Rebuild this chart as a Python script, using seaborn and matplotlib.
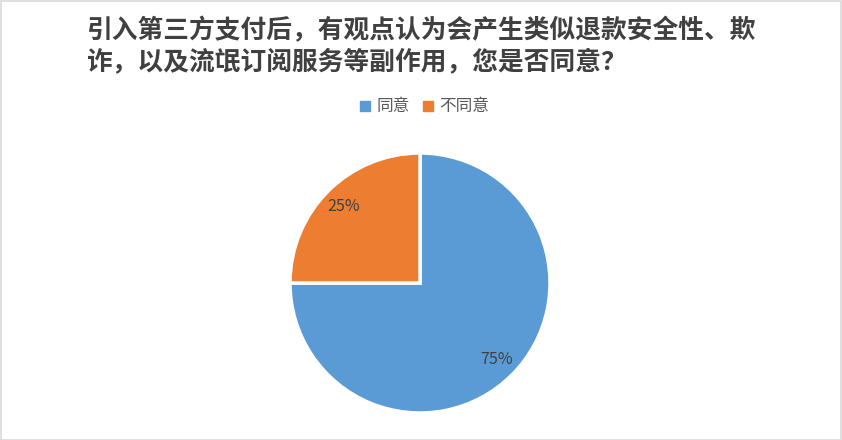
import matplotlib
matplotlib.use("Agg")
import matplotlib.pyplot as plt
from matplotlib.patches import Rectangle
from matplotlib.lines import Line2D
import seaborn as sns

sns.set_theme(style="white")
plt.rcParams['font.family'] = ['Noto Sans CJK SC', 'DejaVu Sans']

title = "引入第三方支付后，有观点认为会产生类似退款安全性、欺\n诈，以及流氓订阅服务等副作用，您是否同意？"
categories = ["同意", "不同意"]
values = [75, 25]
colors = ["#5b9bd5", "#ed7d31"]

fig = plt.figure(figsize=(8.42, 4.4), dpi=100)
fig.patch.set_facecolor("white")
fig.patches.append(Rectangle((0.5/842, 0.5/440), 1 - 1.5/842, 1 - 1.5/440, transform=fig.transFigure,
                             fill=False, edgecolor="#d9d9d9", linewidth=1.2))

ax = fig.add_axes([290/842, 27/440, 260/842, 260/440])
wedges, texts, autotexts = ax.pie(values, colors=colors, startangle=90, counterclock=False,
                                  autopct=lambda p: f"{p:.0f}%", pctdistance=0.83,
                                  wedgeprops=dict(edgecolor="white", linewidth=2.5),
                                  textprops=dict(fontsize=11.5, color="#404040"))
ax.set_xlim(-1.0, 1.0)
ax.set_ylim(-1.0, 1.0)
ax.set_aspect("equal")
ax.axis("off")

fig.text(86/842, 1 - 46/440, title, fontsize=18.5, fontweight="semibold", color="#404040",
         ha="left", va="center", linespacing=1.2)

handles = [Line2D([0], [0], marker="s", linestyle="", markersize=7, markerfacecolor=c,
                  markeredgecolor=c) for c in colors]
fig.legend(handles, categories, loc="center", bbox_to_anchor=(422/842, 1 - 107/440), ncol=2,
           frameon=False, fontsize=12, handletextpad=0.1, columnspacing=0.5,
           handlelength=1.2, labelcolor="#595959")

fig.savefig("out.png", dpi=100, facecolor="white")
